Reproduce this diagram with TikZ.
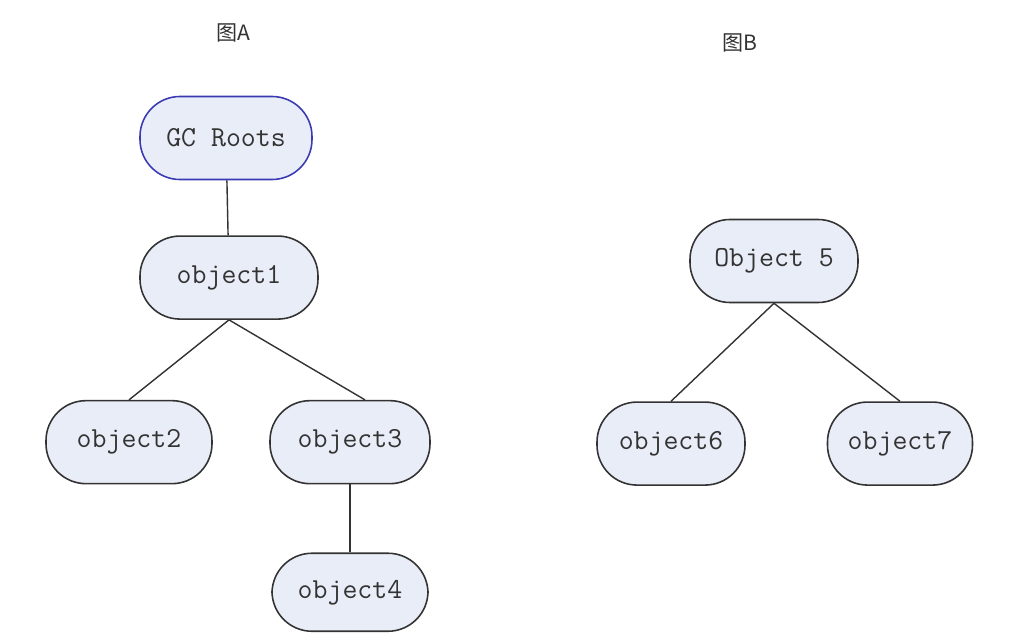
\documentclass[tikz,border=0pt]{standalone}
\usepackage{fontspec}
\newfontfamily\cjk{Noto Sans CJK SC}
\usepackage{xcolor}
\usepackage{tikz}
\usetikzlibrary{positioning}
\definecolor{paleblue}{HTML}{E9EDF7}
\definecolor{inkgray}{HTML}{333333}
\definecolor{rootblue}{HTML}{3A3AB4}

\begin{document}
\begin{tikzpicture}[
  obj/.style={draw=inkgray,fill=paleblue,line width=0.9pt,rectangle,rounded corners=8mm,
    minimum width=3.2cm,minimum height=1.66cm,inner sep=1pt,text=inkgray,
    font=\ttfamily\fontsize{16.5}{18}\selectfont},
  root/.style={obj,draw=rootblue},
  title/.style={text=inkgray,font=\cjk\fontsize{12}{14}\selectfont},
  lnk/.style={draw=inkgray,line width=0.8pt}
]
\useasboundingbox (0,0) rectangle (20.26,-12.88);

% left tree
\node[title] (tA) at (4.66,-0.66) {图A};
\node[root,minimum width=3.44cm] (gc) at (4.52,-2.76) {GC Roots};
\node[obj,minimum width=3.56cm] (o1) [below=1.1cm of gc,xshift=0.06cm] {object1};
\node[obj,minimum width=3.32cm] (o2) [below=1.6cm of o1,xshift=-2cm] {object2};
\node[obj] (o3) [below=1.6cm of o1,xshift=2.42cm] {object3};
\node[obj,minimum width=3.12cm,minimum height=1.56cm] (o4) [below=1.36cm of o3] {object4};
\draw[lnk] (gc)--(o1);
\draw[lnk] (o1.south)--(o2.north);
\draw[lnk] (o1.south)--([xshift=3mm]o3.north);
\draw[lnk] (o3)--(o4);

% right tree
\node[title] (tB) at (14.8,-0.86) {图B};
\node[obj,minimum width=3.36cm] (o5) at (15.48,-5.22) {Object 5};
\node[obj,minimum width=2.96cm] (o6) [below=1.96cm of o5,xshift=-2.06cm] {object6};
\node[obj,minimum width=2.9cm] (o7) [below=1.96cm of o5,xshift=2.52cm] {object7};
\draw[lnk] (o5.south)--(o6.north);
\draw[lnk] (o5.south)--(o7.north);
\end{tikzpicture}
\end{document}
